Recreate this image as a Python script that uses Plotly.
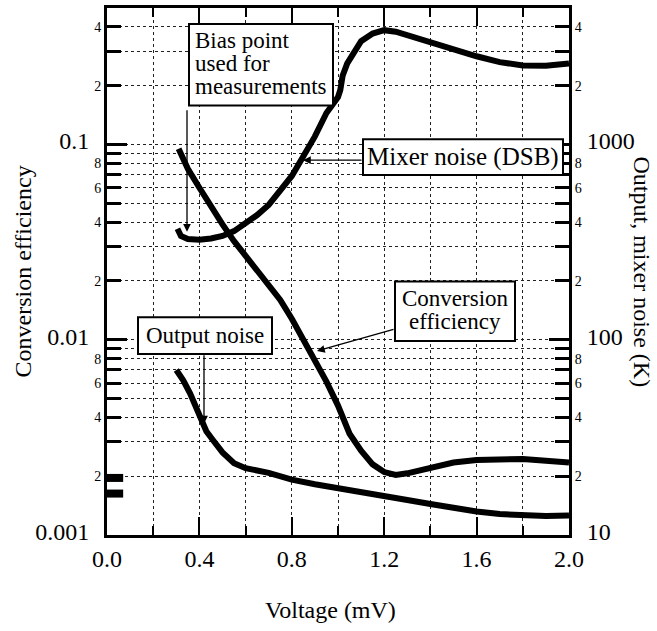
import plotly.graph_objects as go
import numpy as np

# ---------------- data ----------------
V_mix = [0.305, 0.32, 0.35, 0.40, 0.45, 0.50, 0.55, 0.60, 0.65, 0.70, 0.75, 0.80, 0.85, 0.90,
         0.95, 0.98, 1.00, 1.01, 1.02, 1.04, 1.07, 1.10, 1.15, 1.20, 1.25, 1.30, 1.40, 1.50,
         1.60, 1.70, 1.80, 1.90, 2.00]
T_mix = [370, 340, 328, 325, 330, 340, 360, 395, 435, 490, 580, 690, 870, 1100,
         1450, 1600, 1750, 1900, 2250, 2600, 3000, 3380, 3700, 3850, 3780, 3620, 3360, 3080,
         2830, 2640, 2540, 2530, 2600]

V_ce = [0.31, 0.35, 0.40, 0.45, 0.50, 0.55, 0.60, 0.65, 0.70, 0.75, 0.80, 0.85, 0.90, 0.95,
        1.00, 1.05, 1.10, 1.15, 1.20, 1.25, 1.30, 1.40, 1.50, 1.60, 1.70, 1.80, 1.90, 2.00]
CE = [0.095, 0.075, 0.060, 0.048, 0.039, 0.032, 0.027, 0.0225, 0.019, 0.016, 0.0128, 0.0101, 0.0078, 0.0061,
      0.0046, 0.0033, 0.0027, 0.0023, 0.0021, 0.00203, 0.00207, 0.00222, 0.00235, 0.00242, 0.00245, 0.00245,
      0.0024, 0.00235]

V_on = [0.30, 0.33, 0.36, 0.40, 0.43, 0.46, 0.50, 0.55, 0.60, 0.70, 0.80, 0.90, 1.00, 1.10,
        1.20, 1.30, 1.40, 1.50, 1.60, 1.70, 1.80, 1.90, 2.00]
T_on = [70, 62, 53, 40, 34, 30.5, 26.5, 23.3, 22, 20.8, 19.2, 18.2, 17.3, 16.6,
        15.9, 15.1, 14.4, 13.7, 13.2, 12.8, 12.6, 12.5, 12.6]

zero_bias_V = [-0.01, 0.07]
zero_bias_T1 = [19.6, 19.6]
zero_bias_T2 = [16.3, 16.3]

x_ticks = [0.0, 0.4, 0.8, 1.2, 1.6, 2.0]
x_minor = [0.2, 0.6, 1.0, 1.4, 1.8]
left_decades = [0.001, 0.01, 0.1]
right_decades = [10, 100, 1000]
digits = [1, 2, 3, 4, 5, 6, 7, 8, 9]

FONT = "Liberation Serif, Times New Roman, serif"

# ---------------- geometry helpers (layout only) ----------------
W, H = 657, 631
L, R, T, B = 107, 569, 5, 535


def px(x):
    return (x - L) / (R - L)


def py(y):
    return (B - y) / (B - T)


def tick_vals(decades, top):
    vals = []
    for d in decades:
        for k in digits:
            v = d * k
            if v <= top * 1.0001:
                vals.append(v)
    return vals


def tick_text(vals, decades, left=True):
    out = []
    for v in vals:
        if any(abs(v - d) < 1e-12 for d in decades):
            s = f"{v:g}" if v < 1 else f"{int(v)}"
            if left:
                out.append(f"<span style='font-size:24px'>{s}&nbsp;&nbsp;</span>")
            else:
                out.append(f"<span style='font-size:24px'>&nbsp;&nbsp;{s}</span>")
        else:
            lead = round(v / (10 ** np.floor(np.log10(v) + 1e-9)))
            out.append(str(lead) if lead in (2, 4, 6, 8) else "")
    return out


lv = tick_vals(left_decades, 0.5)
rv = tick_vals(right_decades, 5000)

fig = go.Figure()
line = dict(color="black", width=6)
fig.add_trace(go.Scatter(x=V_ce, y=CE, mode="lines", line=line, yaxis="y", hoverinfo="skip"))
fig.add_trace(go.Scatter(x=V_mix, y=T_mix, mode="lines", line=line, yaxis="y2", hoverinfo="skip"))
fig.add_trace(go.Scatter(x=V_on, y=T_on, mode="lines", line=line, yaxis="y2", hoverinfo="skip"))
fig.add_trace(go.Scatter(x=zero_bias_V, y=zero_bias_T1, mode="lines", line=dict(color="black", width=8),
                         yaxis="y2", cliponaxis=False, hoverinfo="skip"))
fig.add_trace(go.Scatter(x=zero_bias_V, y=zero_bias_T2, mode="lines", line=dict(color="black", width=8),
                         yaxis="y2", cliponaxis=False, hoverinfo="skip"))

grid = dict(showgrid=True, gridcolor="#222", gridwidth=1, griddash="dot")

fig.update_layout(
    width=W, height=H,
    margin=dict(l=L, r=W - R, t=T, b=H - B),
    paper_bgcolor="white", plot_bgcolor="white",
    showlegend=False, hovermode=False,
    font=dict(family=FONT, color="black", size=24),
    xaxis=dict(range=[0, 2.0], tickmode="array", tickvals=x_ticks,
               ticktext=[f"{v:.1f}" for v in x_ticks],
               ticks="inside", ticklen=18, tickwidth=2, tickcolor="black",
               showline=True, linewidth=3, linecolor="black", mirror="ticks",
               tickfont=dict(size=24, family=FONT), zeroline=False,
               minor=dict(tickmode="array", tickvals=x_minor, ticks="inside", ticklen=9,
                          tickwidth=2, tickcolor="black", showgrid=True, gridcolor="#222",
                          griddash="dot", gridwidth=1),
               **grid),
    yaxis=dict(type="log", range=[-3, np.log10(0.5)], tickmode="array", tickvals=lv,
               ticktext=tick_text(lv, left_decades, True),
               ticks="inside", ticklen=14, tickwidth=3, tickcolor="black",
               showline=True, linewidth=3, linecolor="black",
               tickfont=dict(size=14, family=FONT), zeroline=False,
               minor=dict(tickmode="array", tickvals=left_decades, ticks="inside", ticklen=20,
                          tickwidth=3, tickcolor="black", showgrid=False),
               **grid),
    yaxis2=dict(type="log", range=[1, np.log10(5000)], overlaying="y", side="right",
                tickmode="array", tickvals=rv,
                ticktext=tick_text(rv, right_decades, False),
                ticks="inside", ticklen=14, tickwidth=3, tickcolor="black",
                showline=True, linewidth=3, linecolor="black",
                tickfont=dict(size=14, family=FONT), zeroline=False, showgrid=False,
                minor=dict(tickmode="array", tickvals=right_decades, ticks="inside", ticklen=20,
                           tickwidth=3, tickcolor="black", showgrid=False)),
)

# ---------------- boxes ----------------
boxes = [(189, 21, 333, 103), (363, 137, 563, 173), (395, 280, 515, 340), (138, 316, 272, 353)]
for (x0, y0, x1, y1) in boxes:
    fig.add_shape(type="rect", xref="paper", yref="paper", x0=px(x0), x1=px(x1),
                  y0=py(y1), y1=py(y0), fillcolor="white", line=dict(color="black", width=2),
                  layer="above")

texts = [
    ("Bias point", 193, 38, "left", 23),
    ("used for", 193, 61, "left", 23),
    ("measurements", 193, 84, "left", 23),
    ("Mixer noise (DSB)", 463, 155, "center", 25),
    ("Conversion", 455, 297, "center", 23),
    ("efficiency", 455, 320, "center", 23),
    ("Output noise", 205, 334, "center", 23),
]
for (t, x, y, al, fs) in texts:
    fig.add_annotation(text=t, xref="paper", yref="paper", x=px(x), y=py(y), showarrow=False,
                       xanchor=al, yanchor="middle", font=dict(family=FONT, size=fs, color="black"))

arrows = [((187, 230), (187, 107)), ((303, 158), (363, 158)), ((317, 350), (395, 328)),
          ((204, 423), (204, 353))]
for (tip, tail) in arrows:
    fig.add_annotation(text="", xref="paper", yref="paper", x=px(tip[0]), y=py(tip[1]),
                       ax=tail[0] - tip[0], ay=tail[1] - tip[1], showarrow=True,
                       arrowhead=2, arrowsize=1.2, arrowwidth=1.3, arrowcolor="black")

# ---------------- axis titles ----------------
fig.add_annotation(text="Conversion efficiency", xref="paper", yref="paper", x=px(22), y=py(270),
                   xanchor="center", yanchor="middle",
                   textangle=-90, showarrow=False, font=dict(family=FONT, size=24))
fig.add_annotation(text="Output, mixer noise (K)", xref="paper", yref="paper", x=px(642), y=py(270),
                   xanchor="center", yanchor="middle",
                   textangle=90, showarrow=False, font=dict(family=FONT, size=24))
fig.add_annotation(text="Voltage (mV)", xref="paper", yref="paper", x=px(330), y=py(610),
                   xanchor="center", yanchor="middle",
                   showarrow=False, font=dict(family=FONT, size=24))

fig.write_html("out.html", config={"displayModeBar": False, "staticPlot": True},
               post_script="document.body.style.margin='0px';document.body.style.padding='0px';")
